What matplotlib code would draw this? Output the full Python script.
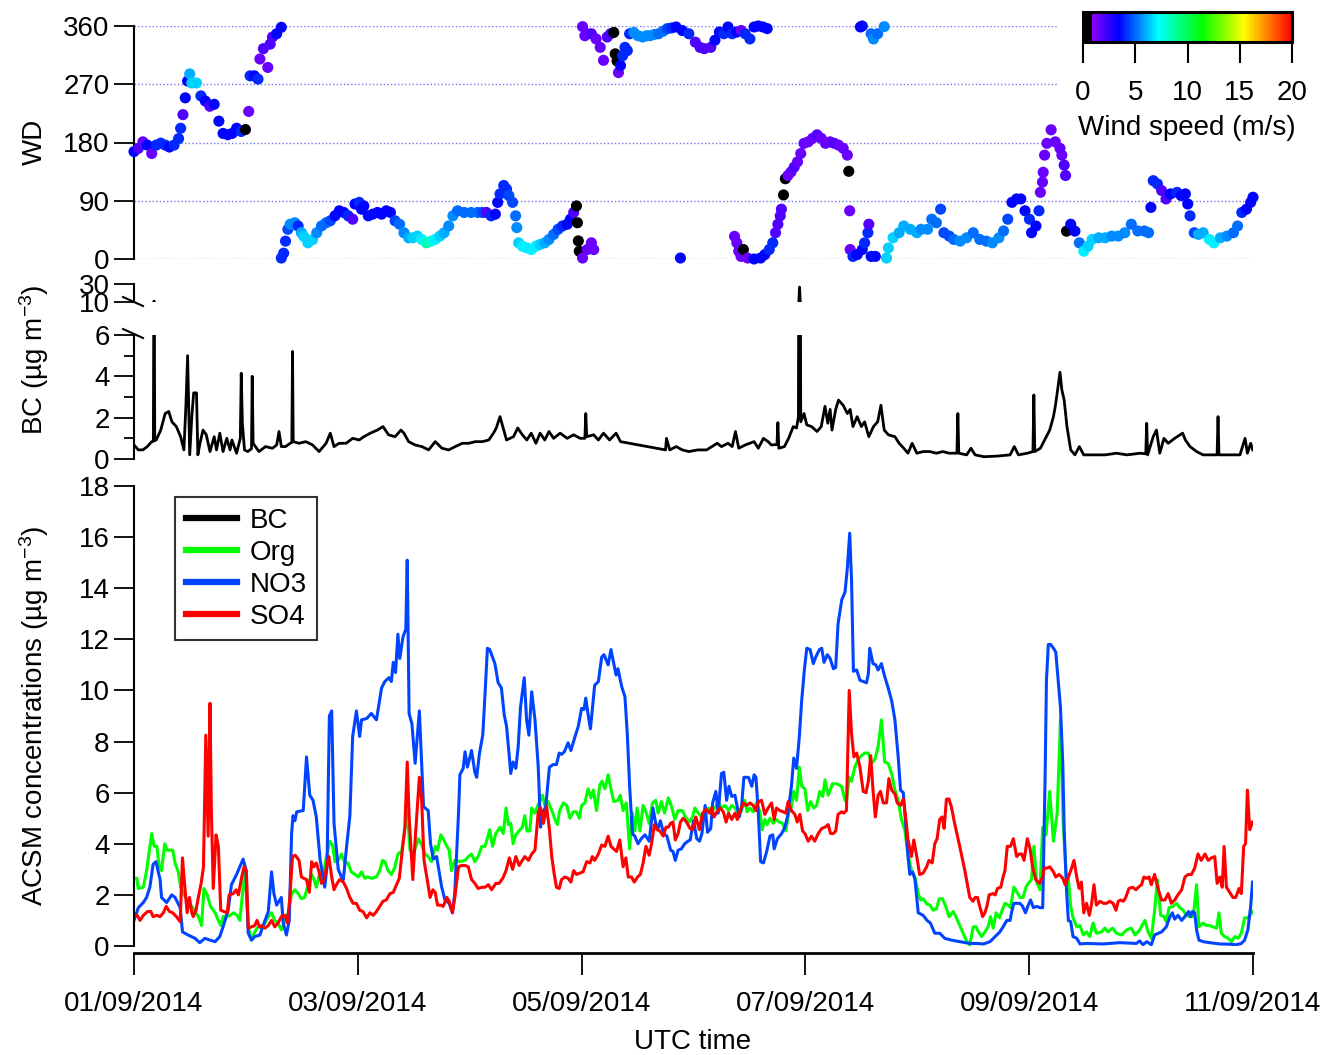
import numpy as np
import matplotlib
matplotlib.use("Agg")
import matplotlib.pyplot as plt
from matplotlib.colors import LinearSegmentedColormap, Normalize
from matplotlib.lines import Line2D
import matplotlib.ticker as mticker

plt.rcParams['font.family'] = ['Liberation Sans', 'DejaVu Sans']
plt.rcParams['mathtext.default'] = 'regular'
plt.rcParams['font.size'] = 20

W, H = 1330, 1055

# ---------------- axis / label data ----------------
date_ticks_h = [0, 48, 96, 144, 192, 240]
date_labels = ["01/09/2014", "03/09/2014", "05/09/2014", "07/09/2014", "09/09/2014", "11/09/2014"]
wd_ticks = [0, 90, 180, 270, 360]
bc_ticks_low = [0, 2, 4, 6]
bc_ticks_high = [10, 30]
acsm_ticks = [0, 2, 4, 6, 8, 10, 12, 14, 16, 18]
ws_ticks = [0, 5, 10, 15, 20]

# ---------------- wind direction: (hours since 01/09 00:00, WD deg, wind speed m/s) ----------------
wd_seg_a = [(0.0,166,3.5),(0.94,171,2.0),(1.9,181,1.5),(2.85,176,3.5),(3.8,163,1.5),(4.77,176,4.0),(5.73,179,4.0),
            (6.69,176,4.0),(7.6,173,3.5),(8.6,176,4.0),(9.56,186,4.0),(10.0,202,4.0),(10.5,223,2.0),(11.0,249,3.5),
            (11.5,275,3.5),(11.95,286,6.0),(12.4,272,6.5),(13.4,272,6.5),(14.35,252,4.0),(15.3,244,3.5),(16.26,236,2.0),
            (17.2,239,3.5),(18.2,213,3.5),(19.1,194,3.5),(20.1,192,3.5),(21.05,194,3.5),(22.0,202,3.5),(23.0,197,4.0),
            (23.9,200,0.6),(24.6,228,1.5),(24.9,283,4.0),(25.8,283,3.5),(26.6,278,4.0),(27.0,309,1.5),(27.75,325,2.0),
            (28.7,296,1.5),(29.2,332,2.0),(29.7,343,2.0),(30.6,348,3.5),(31.6,358,3.5)]
wd_seg_b = [(31.6,1.5,4.0),(32.1,9,4.0),(32.5,27.6,4.0),(33.0,45.9,4.5),(33.5,53.7,5.5),(34.5,56,5.5),(35.2,51,4.0),
            (35.9,40.6,6.0),(36.4,35,6.5),(37.3,25,6.5),(38.3,30,6.5),(39.2,40.6,5.5),(40.2,51,5.0),(41.2,56,5.0),
            (42.1,59,4.5),(43.1,66.7,3.5),(44.03,74.5,3.5),(45.0,71.9,3.5),(45.95,66.7,4.0),(46.9,61.5,2.0),
            (47.4,85,3.5),(48.3,87.5,4.0),(48.8,77,3.5),(49.3,82,3.5),(50.25,66.7,3.5),(51.2,69.3,3.5),(52.2,71.9,3.5),
            (53.1,69.3,3.5),(54.1,74.5,3.5),(55.0,71.9,3.5),(56.0,59,4.5),(56.96,53.7,5.0),(57.9,40.6,5.5),
            (58.9,32.8,6.0),(59.8,32.8,6.5),(60.8,35.4,6.5),(61.7,30.2,7.0),(62.7,25,8.5),(63.7,27.6,8.0),
            (64.6,30.2,7.0),(65.6,35.4,6.5),(66.5,40.6,6.0),(67.5,51,5.5),(68.4,66.7,5.5),(69.4,74.5,5.0),
            (70.8,71.9,5.0),(72.3,71.9,5.0),(73.7,71.9,5.0),(74.7,71.9,4.5),(75.6,71.9,2.0),(76.6,66.7,4.0),
            (77.5,69.3,3.5),(78.0,87.5,3.5),(78.5,100.6,4.0),(79.3,113.6,4.0),(79.9,108,4.0),(80.4,98,4.5),
            (81.2,87.5,4.5),(81.85,66.7,5.0),(82.1,48.5,5.5),(82.5,25,6.5),(83.3,19.8,7.0),(84.25,17.2,7.0),
            (85.2,14.6,7.0),(86.2,19.8,7.0),(87.1,22.4,6.5),(88.1,25,6.0),(89.0,30.2,5.5),(90.0,38,5.0),
            (90.95,45.9,4.5),(91.9,51,4.0),(92.9,53.7,3.5),(93.6,61.5,3.5),(94.3,71.9,2.0)]
wd_seg_c = [(94.9,82,0.5),(95.1,56,0.5),(95.3,28,0.5),(95.5,12,0.5),(96.2,1.5,1.5),(97.2,14.6,1.5),(98.1,25,1.5),
            (98.6,14.6,1.5),(117.2,1.5,3.5)]
wd_seg_d = [(96.2,359,1.5),(96.7,345,1.5),(97.2,348,1.5),(98.1,348,2.0),(99.1,340,1.5),(100.0,327,1.5),
            (100.7,307,1.5),(101.5,343,2.0),(102.2,348,2.0),(102.9,350,0.5),(103.2,317,0.5),(103.6,306,0.5),
            (103.9,288,1.5),(104.35,299,3.5),(104.8,314,4.0),(105.3,327,4.0),(105.8,322,4.0),(106.3,348,4.0),
            (107.2,350,5.5),(108.1,345,5.5),(109.1,343,5.5),(110.0,345,5.5)]
wd_seg_e = [(110.7,345,5.5),(111.6,347,5.5),(112.5,348,5.0),(113.5,352,5.0),(114.4,356,4.5),(115.3,357,4.0),
            (116.25,358.5,3.5),(117.6,353,3.5),(119.0,348,4.0),(120.4,335,2.0),(121.4,327,2.0),(122.3,325,2.0),
            (123.7,327,2.0),(124.6,338,3.5),(125.55,350.7,3.5),(126.5,348,4.0),(127.4,358.5,3.5),(128.3,348,4.0),
            (129.3,350.7,3.5),(130.2,353,1.5),(131.1,348,4.0),(132.1,340,4.0),(133.0,358.5,3.5),(133.9,360,3.5),
            (134.9,358.5,3.5),(135.8,356,3.5),
            (155.8,358.5,3.5),(156.2,360,3.5),(158.1,348,5.0),(158.6,340,5.5),(159.5,348,5.0),(160.9,359,5.5)]
wd_seg_h = [(128.8,35,1.5),(129.3,25,1.5),(129.7,12,1.5),(130.2,4,1.5),(130.7,14.6,0.5),(131.6,1.5,1.5),
            (133.0,0,3.5),(134.4,1.5,3.5),(135.3,6.8,3.5),(136.25,14.6,4.0),(137.0,25,4.0),(137.6,40.6,2.0),
            (138.1,53.7,2.0),(138.6,66.7,2.0),(138.85,77,2.0),(139.3,99,0.5),(139.7,124,0.5),(140.25,129,1.5),
            (140.9,134.4,1.5),(141.6,142,2.0),(142.3,150,1.5),(143.0,163,1.5),(143.7,178.7,1.5),(144.6,181,1.5),
            (145.55,186.5,1.5),(146.5,191.8,2.0),(147.4,186.5,1.5),(148.3,178.7,1.5),(149.3,181,1.5),
            (150.2,178.7,2.0),(151.1,176,1.5),(152.1,171,1.5),(153.0,160.5,1.5),(153.3,135.5,0.5),(153.5,74.5,1.5),
            (153.6,14.6,1.5),(154.2,4,4.0),(155.1,6.8,3.5),(156.2,14.6,3.5),(156.7,25,4.0),(157.4,40.6,4.0),
            (157.6,53.7,2.0),(158.1,4,3.5),(159.0,4,3.5)]
wd_seg_i = [(161.4,1.5,6.5),(161.8,17,6.5),(162.8,32.8,6.5),(164.1,40.6,6.0),(165.1,51,6.0),(166.5,45.9,6.0),
            (167.9,40.6,6.0),(168.8,45.9,5.5),(170.2,45.9,5.5),(171.1,61.5,5.0),(172.1,56,5.0),(173.0,77,4.5),
            (173.7,40.6,4.5),(174.85,35.4,4.5),(175.8,30.2,5.0),(177.2,27.6,5.5),(178.6,32.8,5.5),(180.0,40.6,5.0),
            (181.4,30.2,5.0),(182.8,27.6,5.0),(184.1,25,5.5),(185.5,32.8,5.5),(186.5,43.3,5.0),(187.4,61.5,4.5),
            (188.3,87.5,3.5),(189.3,92.8,3.5),(190.2,92.8,3.5),(191.1,74.5,3.5),(192.05,61.5,4.0),(192.5,40.6,3.5),
            (193.45,51,3.5),(194.1,74.5,4.0),(194.4,103,1.5),(194.85,118.8,1.5),(195.0,134,1.5),(195.3,160.5,1.5),
            (195.8,178.7,1.5),(196.7,199.6,1.5),(197.6,181,1.5),(198.6,171,1.5),(199.0,160.5,1.5),(199.5,145,2.0),
            (199.8,129,2.0),(200.0,43,0.5),(200.9,53.7,3.5),(201.8,43,3.5),(202.75,25,5.0),(203.7,12,7.0),
            (204.6,19.8,6.5),(205.5,30.2,6.5),(206.9,32.8,6.0),(208.3,32.8,6.0),(209.7,35.4,5.5),(211.1,35.4,5.5),
            (212.5,40.6,5.5),(213.9,53.7,5.0),(215.3,43.3,5.0),(216.7,43.3,5.0),(217.6,40.6,5.0),(218.1,79.7,3.5),
            (218.6,121,4.0),(219.5,116,4.0),(220.4,105.8,2.0),(221.35,92.8,2.0),(222.3,100.6,3.5),(223.7,103,4.0),
            (224.6,98,3.5),(225.5,100.6,3.5),(226.0,85,3.5),(226.5,66.7,4.0),(227.4,40.6,4.5),(228.3,38,6.0),
            (229.3,40.6,6.0),(230.65,30.2,7.0),(231.6,25,7.0),(233.0,32.8,6.0),(234.4,35.4,5.5),(235.8,40.6,5.0),
            (236.7,51,5.0),(237.6,71.9,4.0),(238.6,77,3.5),(239.5,87.5,3.5),(240.0,95.4,3.5)]

# ---------------- BC (hours, ug m-3) ----------------
bc = [(0,0.68),(0.94,0.44),(1.9,0.44),(2.85,0.6),(3.8,0.84),(4.15,0.85),(4.3,11.0),(4.45,0.9),(4.77,0.92),
      (5.73,1.4),(6.69,2.2),(7.45,2.3),(8.13,1.8),(9.08,1.57),(10.0,1.08),(10.7,0.44),(11.1,2.4),(11.5,5.0),
      (11.95,0.2),(12.4,2.05),(12.8,3.2),(13.4,3.2),(13.7,0.2),(14.15,0.76),(14.8,1.4),(15.5,1.17),(16.3,0.36),
      (17.2,1.08),(17.7,0.44),(18.4,1.25),(19.1,0.36),(19.9,1.0),(20.6,0.44),(21.0,0.92),(22.0,0.28),(22.8,1.0),
      (23.0,4.15),(23.25,1.7),(23.7,0.44),(24.4,0.36),(25.2,0.5),(25.35,4.0),(25.55,0.76),(26.8,0.36),(28.2,0.6),
      (29.7,0.52),(30.6,0.68),(31.1,1.33),(31.6,0.6),(32.5,0.6),(33.5,0.76),(33.85,0.8),(34.0,5.2),(34.15,0.84),
      (35.4,0.76),(36.85,0.84),(38.3,0.68),(39.7,0.36),(41.2,0.76),(42.1,1.25),(42.9,0.6),(44.0,0.76),(45.5,0.76),
      (46.9,1.0),(48.3,0.92),(49.3,1.08),(50.7,1.25),(52.2,1.4),(53.4,1.57),(54.6,1.17),(56.0,1.08),(57.25,1.4),
      (57.9,1.25),(58.9,0.84),(60.3,0.68),(61.75,0.6),(63.2,0.44),(64.6,0.84),(66.05,0.52),(67.5,0.44),(68.9,0.6),
      (70.4,0.76),(71.8,0.76),(73.2,0.84),(74.7,0.84),(76.1,0.92),(77.1,1.25),(77.7,1.5),(78.5,2.05),(79.3,1.4),
      (79.9,0.92),(81.4,1.08),(82.3,1.5),(83.3,1.17),(84.25,0.92),(85.2,1.25),(86.2,0.76),(87.1,1.25),(88.1,0.92),
      (89.0,1.33),(90.0,1.0),(91.4,1.25),(92.9,1.0),(94.3,1.17),(95.7,1.0),(96.7,1.0),(96.9,2.2),(97.1,1.08),
      (98.6,1.17),(99.6,0.92),(100.7,1.25),(102.0,0.92),(103.4,1.25),(104.35,0.84),(105.3,0.8),
      (114.0,0.44),(114.2,1.0),(114.9,0.44),(116.3,0.6),(117.6,0.44),(119.0,0.36),(120.9,0.44),(122.8,0.44),
      (125.1,0.76),(126.0,0.6),(127.4,0.76),(128.3,0.6),(129.0,1.33),(129.7,0.52),(131.1,0.68),(133.0,0.84),
      (133.9,0.52),(135.0,1.0),(136.0,0.84),(136.7,0.68),(137.9,0.7),(138.1,1.76),(138.3,0.52),(139.5,0.6),
      (140.4,1.0),(141.4,1.57),(142.1,1.5),(142.5,2.05),(142.75,26.5),(142.85,14.5),(143.0,1.8),(143.7,2.2),
      (144.3,1.65),(145.3,1.57),(146.5,1.33),(147.4,1.57),(148.2,2.55),(148.8,1.73),(149.3,2.4),(149.7,1.4),
      (150.5,2.4),(151.1,2.85),(152.1,2.6),(153.0,2.2),(153.6,2.4),(154.2,1.57),(155.1,2.05),(156.0,1.57),
      (156.7,1.8),(157.6,1.08),(158.6,1.57),(159.5,1.8),(160.2,2.6),(160.9,1.4),(161.8,1.17),(163.2,1.08),
      (164.1,0.76),(165.1,0.52),(166.0,0.28),(166.9,0.76),(167.9,0.28),(169.3,0.36),(170.7,0.36),(172.1,0.28),
      (173.45,0.36),(174.85,0.28),(176.5,0.28),(176.7,2.2),(176.9,0.28),(178.6,0.2),(179.5,0.52),(180.4,0.2),
      (182.3,0.11),(185.1,0.14),(187.9,0.2),(188.8,0.6),(189.7,0.2),(191.6,0.28),(192.8,0.36),(193.0,3.1),
      (193.2,0.36),(194.4,0.52),(195.5,1.0),(196.4,1.4),(197.2,2.05),(197.6,2.55),(198.1,3.35),(198.6,4.2),
      (199.0,3.35),(199.5,2.85),(200.1,1.57),(200.9,0.44),(201.8,0.2),(202.75,0.6),(203.7,0.2),(205.5,0.2),
      (208.3,0.2),(210.7,0.28),(213.0,0.2),(215.8,0.28),(217.0,0.25),(217.2,1.73),(217.4,0.2),(218.6,1.08),
      (219.3,1.4),(220.0,0.28),(220.9,1.0),(221.8,0.76),(223.2,1.0),(224.9,1.25),(225.5,0.92),(226.5,0.6),
      (227.9,0.36),(229.3,0.2),(231.6,0.2),(232.3,0.2),(232.5,2.05),(232.7,0.2),(235.3,0.2),(237.2,0.2),
      (238.3,1.0),(238.8,0.28),(239.5,0.76),(239.95,0.44)]

# ---------------- ACSM species (hours, ug m-3) ----------------
no3 = [(0,1.0),(0.93,1.5),(2.0,1.7),(2.7,1.9),(3.4,2.3),(4.1,3.2),(4.7,3.3),(5.6,2.6),(5.9,1.9),(7.0,1.7),(8.1,2.0),
       (8.8,1.9),(9.9,1.5),(10.4,0.55),(11.6,0.43),(13.1,0.3),(14.1,0.13),(15.2,0.3),(16.3,0.23),(17.4,0.17),
       (18.4,0.37),(19.1,0.75),(20.2,1.4),(20.9,2.4),(22.0,2.8),(22.7,3.1),(23.4,3.4),(24.0,3.0),(24.5,0.5),
       (25.2,0.23),(25.9,0.37),(27.0,0.43),(27.7,0.8),(28.8,1.35),(29.5,2.9),(30.0,2.06),(30.6,1.6),(31.6,1.9),
       (32.0,0.9),(32.7,0.43),(33.3,1.0),(33.8,4.4),(34.1,5.1),(34.5,4.9),(34.9,5.25),(36.3,5.3),(37.0,7.4),
       (37.7,5.9),(38.4,5.7),(39.1,5.05),(39.9,3.4),(40.9,2.3),(41.4,3.1),(41.9,9.0),(42.4,9.2),(42.9,4.8),
       (43.8,3.0),(44.5,2.7),(44.9,2.6),(45.6,3.9),(46.3,5.1),(46.9,8.2),(47.7,9.2),(48.4,8.2),(48.8,8.85),
       (49.9,8.9),(50.9,9.1),(52.0,8.85),(53.1,10.1),(53.8,10.35),(54.7,10.5),(55.2,10.35),(55.6,11.1),(56.1,10.7),
       (56.6,12.2),(57.0,11.25),(57.7,12.1),(58.3,12.4),(58.6,15.1),(59.0,9.1),(59.6,8.7),(60.3,7.15),(61.2,9.2),
       (61.7,7.15),(62.1,5.45),(63.1,5.3),(63.6,4.0),(64.2,3.4),(64.9,3.5),(66.0,2.3),(66.7,1.8),(67.6,1.67),
       (68.3,1.3),(68.8,2.06),(69.6,5.2),(69.9,6.7),(70.6,6.95),(71.0,7.6),(71.5,7.0),(72.4,7.65),(73.1,6.8),
       (73.5,6.6),(74.1,7.55),(74.8,8.25),(75.3,9.9),(75.8,11.65),(76.3,11.6),(77.4,11.05),(78.1,10.3),(78.8,10.1),
       (79.4,9.05),(79.9,8.6),(80.5,7.4),(80.8,6.75),(81.3,7.2),(81.9,6.95),(82.4,7.8),(82.9,9.35),(83.7,10.5),
       (84.2,8.85),(84.7,8.25),(85.3,9.95),(86.0,8.85),(86.7,7.0),(87.2,4.65),(87.6,5.2),(88.3,5.45),(89.1,7.0),
       (89.9,7.1),(90.6,7.1),(91.2,7.55),(91.7,7.5),(92.3,7.6),(93.1,7.95),(93.7,7.65),(94.6,8.2),(95.3,8.6),
       (96.0,9.3),(96.5,9.25),(96.9,9.7),(97.4,9.05),(97.9,8.5),(98.8,10.2),(99.6,10.35),(100.3,11.3),(100.8,11.4),
       (101.7,11.0),(102.3,11.6),(102.9,11.05),(103.4,10.6),(103.8,10.85),(104.6,10.15),(105.3,9.75),(105.8,8.3),
       (106.3,6.25),(106.9,4.4),(107.4,4.3),(108.1,4.0),(108.8,4.2),(109.6,4.35),(110.5,4.1),(111.3,5.4),
       (111.9,4.8),(112.4,4.6),(112.9,4.9),(113.6,4.4),(114.3,4.3),(115.1,3.75),(115.6,3.7),(116.1,3.35),
       (116.7,3.75),(117.4,3.8),(118.1,4.0),(118.8,4.1),(119.3,4.15),(120.0,4.9),(120.7,4.2),(121.3,4.1),
       (121.8,4.4),(122.5,5.5),(123.0,4.45),(123.7,4.6),(124.1,5.6),(124.8,6.05),(125.3,5.2),(126.0,6.75),
       (126.5,6.8),(127.1,5.7),(127.6,6.25),(128.2,5.85),(128.9,5.9),(129.8,5.05),(130.3,5.4),(130.8,6.6),
       (131.8,6.6),(132.5,6.25),(133.0,6.7),(133.4,6.6),(133.9,5.2),(134.4,3.3),(135.0,3.25),(135.7,3.7),
       (136.4,4.3),(137.0,4.35),(137.3,3.8),(138.0,4.2),(138.9,4.4),(139.6,4.65),(140.2,5.1),(141.0,6.25),
       (141.5,7.35),(142.1,6.95),(142.7,8.2),(143.2,9.6),(143.8,10.85),(144.3,11.65),(145.0,11.6),(145.7,11.05),
       (146.2,11.3),(147.0,11.6),(147.5,11.65),(148.0,11.1),(148.7,11.4),(149.3,11.25),(150.0,10.85),(150.5,10.9),
       (151.0,12.6),(151.8,13.55),(152.5,13.85),(153.0,14.8),(153.5,16.15),(153.9,14.3),(154.3,10.75),(155.0,10.8),
       (155.7,10.4),(156.4,10.35),(157.1,10.3),(157.5,10.65),(157.8,11.65),(158.5,11.05),(159.1,11.0),(159.6,10.8),
       (160.3,11.05),(161.0,10.55),(161.75,10.1),(162.5,9.6),(163.2,8.85),(163.9,7.4),(164.4,6.1),(165.0,6.0),
       (165.5,4.8),(166.0,3.5),(166.4,2.8),(167.0,2.9),(167.5,2.6),(168.2,1.3),(169.25,1.2),(170.1,1.0),(170.8,0.9),
       (171.75,0.5),(172.8,0.5),(173.9,0.3),(175.3,0.23),(177.1,0.17),(179.25,0.1),(180.7,0.1),(182.2,0.08),
       (183.6,0.17),(184.7,0.37),(185.7,0.55),(186.4,0.75),(187.2,1.0),(187.9,1.0),(188.2,1.3),(188.7,1.67),
       (189.4,1.67),(190.0,1.67),(190.6,1.55),(191.2,1.3),(191.8,1.6),(192.3,1.8),(192.9,1.5),(193.6,1.55),
       (194.3,1.5),(194.9,1.5),(195.4,6.5),(195.7,10.4),(196.1,11.8),(196.6,11.8),(197.2,11.65),(197.7,11.5),
       (198.2,10.4),(198.7,9.35),(199.2,7.15),(199.5,4.55),(200.0,2.2),(200.4,1.0),(200.9,0.95),(201.4,0.37),
       (202.2,0.3),(202.9,0.08),(204.3,0.1),(207.9,0.08),(211.4,0.13),(215.0,0.1),(215.7,0.2),(216.4,0.05),
       (217.2,0.17),(218.2,0.05),(218.9,0.43),(219.7,0.5),(220.4,0.55),(221.4,0.75),(222.2,1.15),(222.7,1.3),
       (223.2,1.05),(223.9,1.2),(224.7,1.0),(225.6,1.2),(226.2,1.35),(226.6,1.15),(227.0,1.35),(227.5,1.3),
       (227.9,0.63),(228.4,0.23),(229.3,0.17),(230.7,0.13),(232.9,0.08),(235.0,0.07),(236.4,0.05),(237.5,0.1),
       (238.2,0.23),(238.9,0.63),(239.5,1.55),(239.9,2.5)]

org = [(0,2.65),(0.6,2.65),(0.9,2.25),(2.0,2.3),(2.7,2.95),(3.3,3.75),(3.8,4.4),(4.3,3.9),(4.9,3.9),(5.4,3.1),
       (5.9,2.95),(6.6,4.0),(7.1,3.75),(7.7,3.75),(8.3,3.75),(8.8,3.25),(9.5,2.9),(10.0,2.3),(10.6,2.05),(11.1,1.9),
       (11.6,1.65),(12.4,1.55),(13.1,1.35),(13.8,1.15),(14.5,0.8),(15.0,2.25),(15.7,2.0),(16.4,1.55),(17.4,1.3),
       (18.1,1.0),(18.6,0.8),(19.1,1.15),(19.9,1.15),(20.6,1.2),(21.4,1.3),(22.1,1.2),(22.7,1.0),(23.8,3.0),
       (24.5,0.75),(25.2,0.23),(25.9,0.55),(26.6,0.75),(27.4,0.7),(28.1,0.9),(28.8,1.15),(29.5,1.3),(30.2,1.0),
       (30.9,0.9),(31.6,0.63),(32.4,1.0),(33.1,1.3),(33.8,2.05),(34.5,2.2),(35.2,2.05),(35.9,1.85),(36.6,1.9),
       (37.4,2.45),(38.1,2.8),(38.6,2.6),(39.1,2.3),(39.9,2.9),(40.6,2.85),(41.3,3.5),(42.0,4.1),(42.6,3.95),
       (43.1,3.3),(43.8,3.35),(44.5,3.6),(45.2,3.25),(45.9,3.25),(46.6,2.9),(47.4,2.8),(48.1,2.7),(48.8,2.9),
       (49.5,2.65),(50.2,2.7),(50.9,2.65),(52.0,2.7),(52.7,2.95),(53.3,3.35),(53.8,3.3),(54.5,2.95),(55.2,2.8),
       (55.9,3.05),(56.6,3.6),(57.4,3.7),(58.1,4.55),(58.6,5.3),(59.2,3.75),(59.9,3.6),(61.0,4.2),(61.7,3.95),
       (62.4,3.6),(63.1,3.5),(63.8,3.3),(64.6,3.9),(65.1,3.75),(65.8,4.35),(66.3,4.2),(67.1,3.9),(67.6,3.75),
       (68.1,2.95),(68.8,3.35),(69.9,3.3),(71.0,3.35),(71.7,3.5),(72.4,3.6),(73.1,3.3),(73.8,3.5),(74.6,3.9),
       (75.3,3.9),(76.3,4.55),(76.9,3.9),(77.6,4.4),(78.5,4.65),(79.2,4.4),(79.8,5.4),(80.3,4.75),(80.8,4.8),
       (81.3,4.0),(81.9,4.35),(82.8,4.55),(83.3,4.65),(83.8,5.1),(84.3,4.5),(84.9,4.5),(85.3,5.4),(86.0,5.2),
       (86.6,5.5),(87.1,5.7),(87.6,5.9),(88.1,5.5),(88.8,5.65),(89.6,5.3),(90.3,4.95),(90.8,4.75),(91.3,5.3),
       (92.1,5.6),(92.8,5.5),(93.5,5.0),(94.2,5.25),(94.9,5.25),(95.5,5.0),(96.0,5.5),(96.7,5.6),(97.4,6.15),
       (98.0,5.8),(98.5,6.1),(99.2,5.3),(99.9,6.3),(100.4,6.45),(101.0,6.15),(101.7,6.7),(102.4,6.05),(102.9,5.65),
       (103.8,5.7),(104.3,5.9),(104.9,5.3),(105.6,5.6),(106.3,3.8),(106.9,5.2),(107.4,4.5),(107.9,5.4),(108.5,4.5),
       (109.2,5.5),(109.9,5.2),(110.5,4.8),(111.2,5.6),(111.9,5.7),(112.4,5.2),(113.1,5.65),(113.8,5.2),(114.6,5.8),
       (115.3,5.45),(116.0,4.95),(116.7,5.3),(117.6,5.3),(118.3,5.05),(119.1,4.85),(119.8,5.05),(120.3,5.4),
       (121.0,5.2),(121.75,5.05),(122.5,5.2),(123.2,5.4),(123.9,5.3),(124.6,5.4),(125.3,5.65),(126.0,5.4),
       (126.75,5.5),(127.5,5.3),(128.2,5.5),(128.9,5.4),(129.6,5.2),(130.3,5.3),(131.0,5.7),(131.5,5.25),
       (132.1,5.4),(132.8,5.25),(133.5,5.6),(134.25,5.25),(134.75,4.55),(135.3,4.95),(135.8,4.75),(136.4,5.0),
       (137.1,4.8),(137.7,4.95),(138.4,4.85),(139.1,4.8),(139.8,4.5),(140.4,5.2),(141.0,5.45),(141.5,6.05),
       (142.1,5.7),(142.7,7.0),(143.2,6.25),(143.9,6.15),(144.5,5.3),(145.1,5.65),(145.8,5.4),(146.4,5.5),
       (147.1,6.05),(147.7,5.85),(148.2,6.5),(148.9,5.9),(149.8,6.35),(150.7,6.35),(151.75,6.25),(152.5,5.7),
       (152.8,5.65),(153.4,6.6),(153.9,6.45),(154.6,7.0),(155.3,7.3),(156.0,7.45),(156.75,7.55),(157.5,7.55),
       (158.2,7.15),(158.9,7.3),(159.6,7.8),(160.3,8.85),(161.0,7.2),(161.75,7.15),(162.5,6.75),(163.2,6.1),
       (163.9,5.7),(164.6,4.95),(165.3,4.55),(166.0,3.6),(166.75,2.95),(167.5,2.7),(168.2,2.05),(168.7,1.8),
       (169.25,1.85),(170.0,1.65),(170.7,1.6),(171.4,1.4),(172.1,1.45),(172.7,1.85),(173.4,1.85),(174.1,1.55),
       (174.8,1.15),(175.7,1.35),(176.4,1.1),(177.5,0.63),(178.5,0.23),(179.25,0.04),(180.0,0.75),(180.6,0.75),
       (181.1,0.55),(181.8,0.37),(182.5,0.55),(183.2,0.75),(183.7,1.15),(184.3,0.7),(184.9,1.3),(185.6,1.1),
       (186.1,1.35),(186.8,1.67),(187.5,1.6),(188.0,1.5),(188.7,2.3),(189.4,2.1),(190.0,1.9),(190.7,1.9),
       (191.3,2.3),(191.8,2.45),(192.5,2.6),(193.0,3.9),(193.6,2.5),(194.3,2.2),(194.9,4.65),(195.6,4.35),
       (196.4,6.05),(197.2,4.1),(198.0,5.2),(198.7,8.85),(199.3,4.8),(199.9,2.85),(200.4,2.6),(200.9,1.55),
       (201.4,1.1),(202.2,0.75),(202.9,0.8),(203.6,0.43),(204.3,0.55),(205.0,0.37),(205.7,0.9),(206.4,0.5),
       (207.5,0.55),(208.2,0.7),(208.9,0.55),(209.9,0.7),(210.7,0.5),(211.8,0.43),(212.9,0.63),(213.9,0.7),
       (214.7,0.43),(215.7,0.63),(216.8,1.0),(217.5,0.55),(218.2,0.3),(218.9,1.4),(219.5,2.6),(220.2,1.2),
       (220.9,1.15),(221.4,0.95),(222.0,1.5),(222.9,1.55),(223.6,1.67),(224.3,1.5),(225.0,1.4),(225.7,1.2),
       (226.4,1.15),(227.2,1.15),(227.9,2.4),(228.4,0.75),(229.3,0.9),(230.0,0.8),(230.7,0.8),(231.4,0.75),
       (232.2,0.7),(232.7,1.3),(233.2,0.5),(233.9,0.37),(234.7,0.3),(235.4,0.17),(236.1,0.37),(236.8,0.3),
       (237.5,0.5),(238.2,1.1),(238.9,1.1),(239.9,1.35)]

so4 = [(0,1.2),(0.7,1.2),(1.3,1.0),(2.0,1.2),(2.9,1.35),(3.6,1.35),(4.1,1.15),(4.9,1.2),(5.6,1.15),(6.3,1.3),
       (6.9,1.55),(7.6,1.35),(8.3,1.3),(9.1,1.15),(9.9,0.95),(10.4,3.45),(10.9,2.3),(11.4,1.3),(11.9,1.9),
       (12.4,1.3),(12.7,1.15),(13.3,1.4),(13.8,1.9),(14.4,2.45),(14.9,3.1),(15.4,8.25),(15.9,4.3),(16.3,9.5),
       (16.6,5.2),(17.0,2.25),(17.6,4.35),(18.1,3.9),(18.6,1.4),(19.3,1.35),(20.0,1.3),(20.4,2.0),(21.3,2.05),
       (21.9,2.2),(22.4,2.0),(23.1,2.7),(23.6,3.1),(24.1,2.95),(24.5,0.7),(25.2,0.75),(25.9,0.8),(26.4,1.0),
       (26.9,0.75),(27.4,0.8),(28.1,0.7),(28.8,0.8),(29.5,1.0),(30.2,0.75),(30.9,0.9),(31.6,1.15),(32.4,1.2),
       (32.9,0.9),(33.4,1.85),(34.0,3.5),(34.6,3.55),(35.4,3.35),(35.9,2.7),(36.4,2.65),(37.0,2.6),(37.6,2.1),
       (38.1,3.3),(38.6,3.1),(39.1,3.25),(39.7,2.9),(40.2,2.45),(40.8,2.6),(41.3,3.1),(41.8,3.5),(42.4,2.7),
       (42.9,2.2),(43.4,2.4),(44.1,2.6),(44.9,2.5),(45.6,2.25),(46.3,1.9),(47.0,1.67),(47.7,1.67),(48.4,1.4),
       (49.1,1.35),(49.9,1.1),(50.6,1.3),(51.3,1.2),(52.0,1.35),(52.7,1.55),(53.4,1.75),(54.1,1.8),(54.9,2.05),
       (55.6,2.1),(56.3,2.4),(56.9,2.65),(57.4,3.5),(57.9,4.3),(58.1,4.65),(58.6,7.2),(59.0,5.1),(59.8,2.6),
       (60.3,4.15),(61.2,6.6),(61.7,5.7),(62.2,3.35),(62.8,2.7),(63.5,1.9),(64.1,2.2),(64.6,2.1),(65.1,1.6),
       (65.8,1.6),(66.3,1.55),(67.1,1.9),(67.6,1.75),(68.3,1.3),(68.8,1.9),(69.6,3.1),(70.3,3.15),(71.0,3.15),
       (71.7,3.1),(72.4,2.6),(73.1,2.45),(73.8,2.25),(74.6,2.3),(75.3,2.3),(76.0,2.4),(76.7,2.2),(77.6,2.45),
       (78.3,2.45),(79.1,2.65),(79.8,2.95),(80.5,3.45),(81.2,3.0),(81.9,3.5),(82.6,3.15),(83.3,3.35),(83.8,3.5),
       (84.6,3.35),(85.3,3.6),(86.0,3.75),(86.7,5.25),(87.2,5.4),(87.8,4.8),(88.5,5.45),(89.1,4.55),(89.6,3.5),
       (90.1,2.85),(90.6,2.3),(91.2,2.25),(91.7,2.6),(92.4,2.7),(93.1,2.65),(93.7,2.5),(94.3,2.95),(94.9,2.8),
       (95.6,2.85),(96.3,2.9),(97.1,3.3),(97.8,3.25),(98.3,3.5),(98.8,3.35),(99.6,3.6),(100.3,3.95),(101.0,3.9),
       (101.7,4.3),(102.3,3.9),(102.9,3.8),(103.5,3.7),(104.2,4.15),(104.9,3.1),(105.5,3.45),(106.0,2.7),
       (106.7,2.7),(107.3,2.5),(108.0,2.7),(108.6,2.8),(109.2,3.25),(109.8,3.9),(110.5,3.55),(111.0,4.0),
       (111.6,4.75),(112.2,4.55),(112.8,4.5),(113.5,4.3),(114.1,4.65),(114.6,4.65),(115.1,4.8),(115.6,4.85),
       (116.1,4.15),(116.7,4.4),(117.2,4.85),(117.8,5.0),(118.5,4.85),(119.25,4.6),(119.8,4.55),(120.5,5.05),
       (121.25,4.55),(121.95,5.2),(122.7,5.35),(123.4,5.2),(123.9,5.4),(124.4,5.05),(125.0,5.25),(125.7,5.4),
       (126.4,5.25),(127.0,4.85),(127.5,5.2),(128.2,4.95),(128.9,5.2),(129.4,4.95),(130.0,5.3),(130.7,5.6),
       (131.4,5.5),(132.1,5.6),(132.8,5.5),(133.4,5.3),(133.9,5.65),(134.6,5.7),(135.3,5.15),(136.0,5.4),
       (136.75,5.6),(137.3,4.95),(137.8,5.4),(138.5,5.3),(139.25,5.25),(139.8,5.2),(140.3,5.65),(141.0,5.3),
       (141.75,5.15),(142.25,4.85),(142.8,5.15),(143.4,4.5),(143.9,4.4),(144.6,4.1),(145.3,4.3),(146.0,4.1),
       (146.75,4.4),(147.5,4.6),(148.2,4.65),(148.9,4.75),(149.4,4.4),(150.0,4.4),(150.5,4.5),(151.0,5.15),
       (151.75,5.25),(152.25,5.2),(152.8,5.3),(153.4,10.0),(153.9,8.3),(154.4,7.4),(155.0,7.55),(155.7,7.0),
       (156.4,6.05),(157.0,6.0),(157.5,6.45),(158.0,7.45),(158.5,6.1),(159.0,5.05),(159.6,5.9),(160.1,6.05),
       (160.7,5.6),(161.4,5.6),(161.9,6.55),(162.5,6.1),(163.2,5.95),(163.7,5.6),(164.4,5.5),(165.0,5.75),
       (165.5,5.05),(166.0,4.15),(166.75,3.5),(167.25,4.15),(167.8,3.6),(168.5,2.8),(169.25,2.85),(170.0,3.1),
       (170.5,3.35),(171.2,3.25),(171.75,4.0),(172.25,4.2),(172.8,4.95),(173.3,5.05),(173.75,4.6),(174.25,5.75),
       (174.8,5.75),(175.3,5.45),(176.0,4.8),(177.1,3.9),(178.2,2.95),(179.25,1.9),(179.95,1.75),(180.4,1.9),
       (180.9,1.9),(181.4,1.55),(182.0,1.15),(182.5,1.3),(183.0,1.6),(183.4,2.0),(184.2,2.05),(184.7,2.0),
       (185.2,2.25),(185.9,2.3),(186.4,2.7),(186.8,2.95),(187.3,3.9),(188.0,3.9),(188.6,4.2),(189.3,3.5),
       (189.9,3.6),(190.4,3.6),(190.9,3.35),(191.6,4.2),(192.2,3.8),(192.7,3.1),(193.4,2.6),(194.2,2.45),
       (194.9,2.7),(195.2,3.05),(195.9,3.05),(196.4,3.1),(197.2,2.9),(197.7,2.7),(198.4,2.8),(199.2,2.65),
       (199.7,2.4),(200.4,2.7),(201.1,3.05),(201.6,3.35),(202.2,2.7),(202.7,2.25),(203.2,2.5),(203.7,1.3),
       (204.3,1.67),(204.9,1.2),(205.4,1.67),(205.9,2.4),(206.4,1.6),(207.2,1.75),(207.9,1.67),(208.6,1.67),
       (209.3,1.75),(210.0,1.67),(210.6,1.4),(211.1,1.75),(211.6,1.8),(212.2,1.75),(212.7,1.9),(213.4,2.25),
       (214.2,2.3),(214.9,2.2),(215.4,2.3),(216.1,2.4),(216.6,2.7),(217.2,2.65),(217.7,2.7),(218.2,2.4),
       (218.9,2.8),(219.7,2.2),(220.4,1.8),(221.1,1.8),(221.8,2.05),(222.5,1.67),(223.2,1.8),(223.9,2.0),
       (224.7,2.2),(225.4,2.7),(226.1,2.8),(226.8,2.8),(227.5,3.05),(228.2,3.6),(228.9,3.35),(229.7,3.6),
       (230.4,3.35),(231.1,3.45),(231.8,3.5),(232.3,2.45),(232.9,2.7),(233.4,2.3),(233.8,3.9),(234.3,2.3),
       (235.0,2.1),(235.7,1.9),(236.3,1.9),(237.0,2.25),(237.5,2.05),(238.0,3.9),(238.4,4.0),(238.8,6.1),
       (239.3,4.55),(239.9,4.85)]

# ---------------- styling ----------------
C_ORG, C_NO3, C_SO4 = '#00ff00', '#0044ff', '#ff0000'
TICK_LEN, TICK_W, SPINE_W = 14.5, 1.3, 1.5
FS = 20

ws_cmap = LinearSegmentedColormap.from_list('ws', [
    (0.0, (0, 0, 0)), (0.042, (0, 0, 0)), (0.043, (0.55, 0.0, 1.0)), (0.17, (0.0, 0.0, 1.0)),
    (0.36, (0.0, 1.0, 1.0)), (0.57, (0.0, 1.0, 0.0)), (0.77, (1.0, 1.0, 0.0)), (1.0, (1.0, 0.0, 0.0))])
ws_norm = Normalize(0, 20)

fig = plt.figure(figsize=(W / 100, H / 100), dpi=100)


def box(x0, x1, y0, y1):
    return [x0 / W, 1 - y1 / H, (x1 - x0) / W, (y1 - y0) / H]


def style_left(ax):
    for s in ['top', 'right', 'bottom']:
        ax.spines[s].set_visible(False)
    ax.spines['left'].set_linewidth(SPINE_W)
    ax.tick_params(axis='y', which='major', direction='out', length=TICK_LEN, width=TICK_W, labelsize=FS, pad=3)
    ax.tick_params(axis='x', which='both', bottom=False, labelbottom=False)
    ax.set_xlim(0, 240)
    ax.patch.set_visible(False)


# ---- WD panel ----
ax_wd = fig.add_axes(box(134, 1253, 26, 259))
style_left(ax_wd)
ax_wd.set_ylim(0, 360)
ax_wd.set_yticks(wd_ticks)
for v in wd_ticks:
    ax_wd.axhline(v, xmin=0, xmax=(0.826 if v >= 180 else 1.0), color='#7474f4',
                  lw=1.0, ls=(0, (1, 1.6)), zorder=1)
wd_all = wd_seg_a + wd_seg_b + wd_seg_c + wd_seg_d + wd_seg_e + wd_seg_h + wd_seg_i
t_wd = [p[0] for p in wd_all]
d_wd = [p[1] for p in wd_all]
s_wd = [p[2] for p in wd_all]
sc = ax_wd.scatter(t_wd, d_wd, c=s_wd, cmap=ws_cmap, norm=ws_norm, s=64, edgecolors='none',
                   clip_on=False, zorder=3)

# colour bar
cax = fig.add_axes(box(1083, 1292, 12, 42))
cb = fig.colorbar(sc, cax=cax, orientation='horizontal', ticks=ws_ticks)
cb.outline.set_linewidth(2.2)
cax.tick_params(axis='x', direction='out', length=15, width=1.5, labelsize=FS, pad=12)
fig.text(1187 / W, 1 - 128 / H, 'Wind speed (m/s)', ha='center', va='center', fontsize=FS)

# ---- BC panel (broken axis) ----
bc_t = [p[0] for p in bc]
bc_v = [p[1] for p in bc]
ax_bcu = fig.add_axes(box(134, 1253, 284, 302))
style_left(ax_bcu)
ax_bcu.set_ylim(10, 30)
ax_bcu.set_yticks(bc_ticks_high)
ax_bcu.plot(bc_t, bc_v, color='black', lw=2.0)

ax_bc = fig.add_axes(box(134, 1253, 335, 459))
style_left(ax_bc)
ax_bc.set_ylim(0, 6)
ax_bc.set_yticks(bc_ticks_low)
ax_bc.yaxis.set_minor_locator(mticker.FixedLocator([1, 3, 5]))
ax_bc.tick_params(axis='y', which='minor', direction='out', length=7.5, width=TICK_W)
ax_bc.plot(bc_t, bc_v, color='black', lw=2.0)

for (x0, y0, x1, y1) in [(123, 297, 143, 306), (123, 329, 143, 338)]:
    fig.add_artist(Line2D([x0 / W, x1 / W], [1 - y0 / H, 1 - y1 / H], color='black', lw=1.5,
                          transform=fig.transFigure))

# ---- ACSM panel ----
ax_ac = fig.add_axes(box(134, 1253, 486, 946))
for s in ['top', 'right']:
    ax_ac.spines[s].set_visible(False)
ax_ac.spines['left'].set_linewidth(SPINE_W)
ax_ac.spines['bottom'].set_linewidth(SPINE_W + 0.5)
ax_ac.spines['bottom'].set_position(('outward', 5))
ax_ac.set_xlim(0, 240)
ax_ac.set_ylim(0, 18)
ax_ac.set_yticks(acsm_ticks)
ax_ac.set_xticks(date_ticks_h)
ax_ac.set_xticklabels(date_labels)
ax_ac.tick_params(axis='y', direction='out', length=TICK_LEN, width=TICK_W, labelsize=FS, pad=3)
ax_ac.tick_params(axis='x', direction='out', length=15.5, width=TICK_W, labelsize=FS, pad=12)

for series, col in [(org, C_ORG), (no3, C_NO3), (so4, C_SO4)]:
    ax_ac.plot([p[0] for p in series], [p[1] for p in series], color=col, lw=2.2)

handles = [Line2D([], [], color='black', lw=4.5), Line2D([], [], color=C_ORG, lw=4.5),
           Line2D([], [], color=C_NO3, lw=4.5), Line2D([], [], color=C_SO4, lw=4.5)]
leg = ax_ac.legend(handles, ['BC', 'Org', 'NO3', 'SO4'], loc='upper left',
                   bbox_to_anchor=((175 - 134) / 1119, (946 - 497) / 460), borderaxespad=0,
                   frameon=True, fancybox=False, fontsize=FS, handlelength=1.85, handletextpad=0.45,
                   labelspacing=0.22, borderpad=0.38)
leg.get_frame().set_edgecolor('black')
leg.get_frame().set_linewidth(1.5)

# ---- axis titles ----
fig.text(35 / W, 1 - 142 / H, 'WD', rotation=90, ha='center', va='center', fontsize=FS)
fig.text(34 / W, 1 - 360 / H, 'BC (µg m$^{-3}$)', rotation=90, ha='center', va='center', fontsize=FS)
fig.text(34 / W, 1 - 716 / H, 'ACSM concentrations (µg m$^{-3}$)', rotation=90, ha='center', va='center',
         fontsize=FS)
fig.text(693 / W, 1 - 1042 / H, 'UTC time', ha='center', va='center', fontsize=FS)

fig.savefig('out.png', dpi=100)
